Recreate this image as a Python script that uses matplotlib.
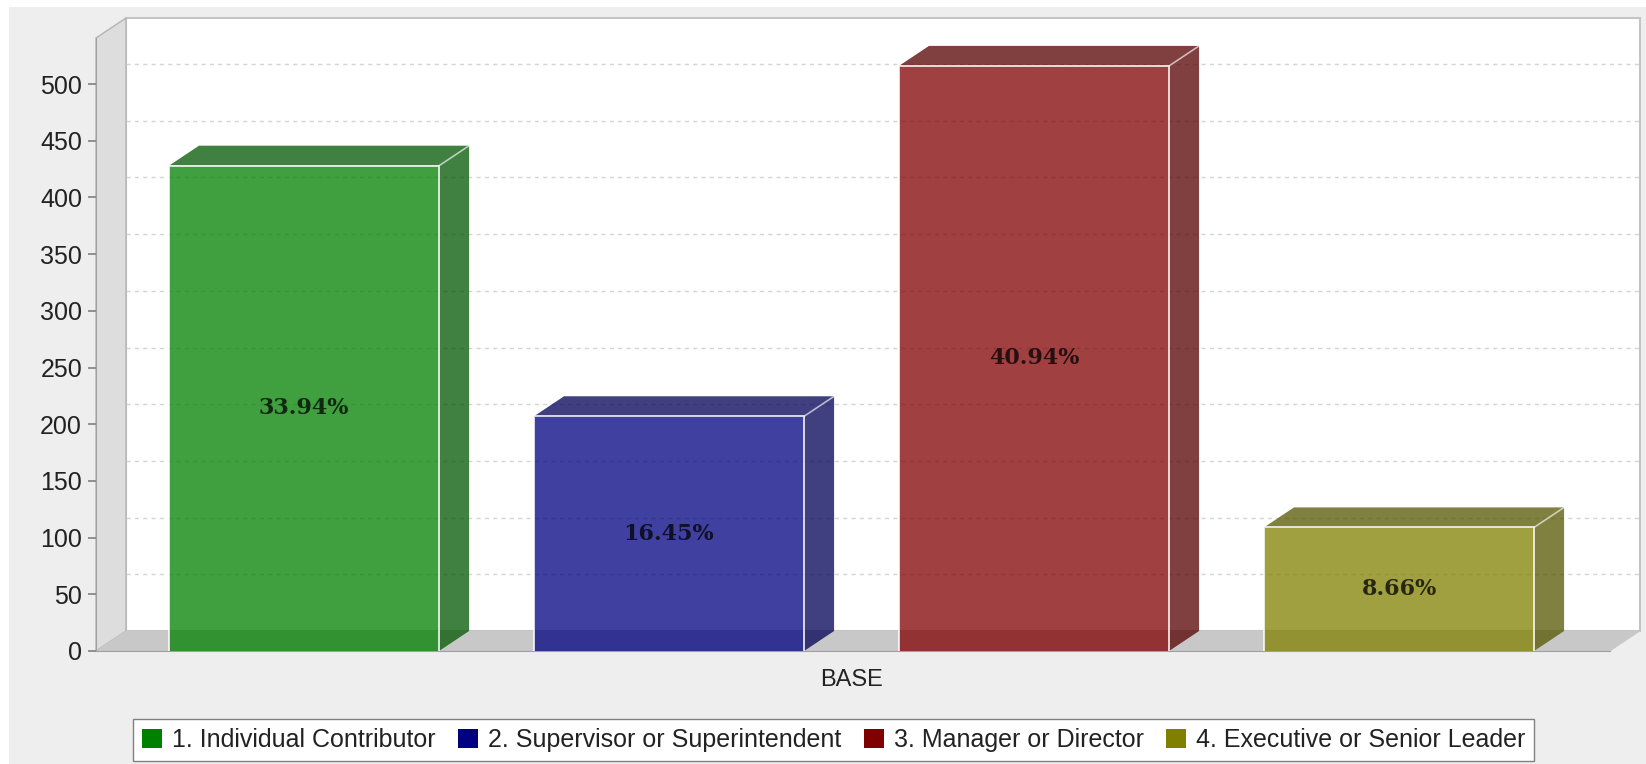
import matplotlib
matplotlib.use('Agg')
import matplotlib.pyplot as plt
from matplotlib.patches import Polygon, Patch, Rectangle

# data
names = ['1. Individual Contributor', '2. Supervisor or Superintendent', '3. Manager or Director', '4. Executive or Senior Leader']
values = [428, 207, 516, 109]
pct_labels = ['33.94%', '16.45%', '40.94%', '8.66%']
y_ticks = [0, 50, 100, 150, 200, 250, 300, 350, 400, 450, 500]
grid_vals = [50, 100, 150, 200, 250, 300, 350, 400, 450, 500]
base_cols = ['#008000', '#000080', '#800000', '#808000']
side_cols = ['#005500', '#000055', '#550000', '#555500']

W, H = 1646, 764
plt.rcParams['font.family'] = ['Liberation Sans', 'DejaVu Sans']

fig = plt.figure(figsize=(W / 100, H / 100), dpi=100, facecolor='white')
# grey panel, thin white strip left and top
fig.patches.append(Rectangle((9 / W, 0), 1 - 9 / W, 1 - 7 / H, transform=fig.transFigure, facecolor='#eeeeee', edgecolor='none', zorder=-5))

ax = fig.add_axes([96 / W, (H - 651) / H, (1610 - 96) / W, (651 - 38) / H])
ax.patch.set_visible(False)
x0, x1 = -0.57, 3.578
y1 = 540.6
ax.set_xlim(x0, x1)
ax.set_ylim(0, y1)
# 3d depth in data units
dx = 30 / 365
dy = 20 / 1.134
bw = 0.74

# walls and floor
ax.add_patch(Polygon([(x0 + dx, dy), (x1 + dx, dy), (x1 + dx, y1 + dy), (x0 + dx, y1 + dy)], closed=True, facecolor='white', edgecolor='#c4c4c4', linewidth=1.5, clip_on=False, zorder=1))
ax.add_patch(Polygon([(x0, 0), (x0 + dx, dy), (x0 + dx, y1 + dy), (x0, y1)], closed=True, facecolor='#dddddd', edgecolor='#b4b4b4', linewidth=1, clip_on=False, zorder=1))
ax.add_patch(Polygon([(x0, 0), (x1, 0), (x1 + dx, dy), (x0 + dx, dy)], closed=True, facecolor='#c8c8c8', edgecolor='#c8c8c8', linewidth=0.5, clip_on=False, zorder=1))

# grid on back wall
for g in grid_vals:
    ax.plot([x0 + dx, x1 + dx], [g + dy, g + dy], color='#d4d4d4', linewidth=1, linestyle=(0, (3, 3)), clip_on=False, zorder=2)

# bars
pos = list(range(len(values)))
ax.bar(pos, values, width=bw, color=base_cols, alpha=0.75, linewidth=0, zorder=3)
for i, v in enumerate(values):
    l = i - bw / 2
    r = i + bw / 2
    ax.add_patch(Polygon([(r, 0), (r + dx, dy), (r + dx, v + dy), (r, v)], closed=True, facecolor=side_cols[i], alpha=0.75, edgecolor='none', zorder=3))
    ax.add_patch(Polygon([(l, v), (l + dx, v + dy), (r + dx, v + dy), (r, v)], closed=True, facecolor=side_cols[i], alpha=0.75, edgecolor='none', zorder=3))
    # light outline
    ax.plot([l, l, r, r], [0, v, v, 0], color='white', alpha=0.8, linewidth=1.4, zorder=4)
    ax.plot([r, r + dx], [v, v + dy], color='white', alpha=0.6, linewidth=1.2, zorder=4)
    ax.text(i, v / 2, pct_labels[i], ha='center', va='center', fontsize=16, fontweight='bold', family='DejaVu Serif', color='black', alpha=0.75, zorder=5)

# axes
ax.spines['top'].set_visible(False)
ax.spines['right'].set_visible(False)
ax.spines['left'].set_color('#a0a0a0')
ax.spines['bottom'].set_color('#a0a0a0')
ax.spines['left'].set_bounds(0, y1)
ax.set_yticks(y_ticks)
ax.tick_params(axis='y', length=6, width=1.2, color='#808080', labelsize=18, labelcolor='#222222', pad=4)
ax.set_xticks([1.5])
ax.set_xticklabels(['BASE'])
ax.tick_params(axis='x', length=0, labelsize=17, labelcolor='#222222', pad=13)

handles = [Patch(facecolor=c, edgecolor='none', label=n) for c, n in zip(base_cols, names)]
fig.legend(handles=handles, loc='center', bbox_to_anchor=((71 + 1596) / 2 / W, (H - 740) / H), ncol=4, fontsize=18, frameon=True, fancybox=False, facecolor='white', edgecolor='#808080', framealpha=1, handlelength=0.8, handleheight=0.8, handletextpad=0.4, columnspacing=0.9, borderpad=0.35, labelcolor='#222222')

fig.savefig('out.png', dpi=100, facecolor=fig.get_facecolor())
